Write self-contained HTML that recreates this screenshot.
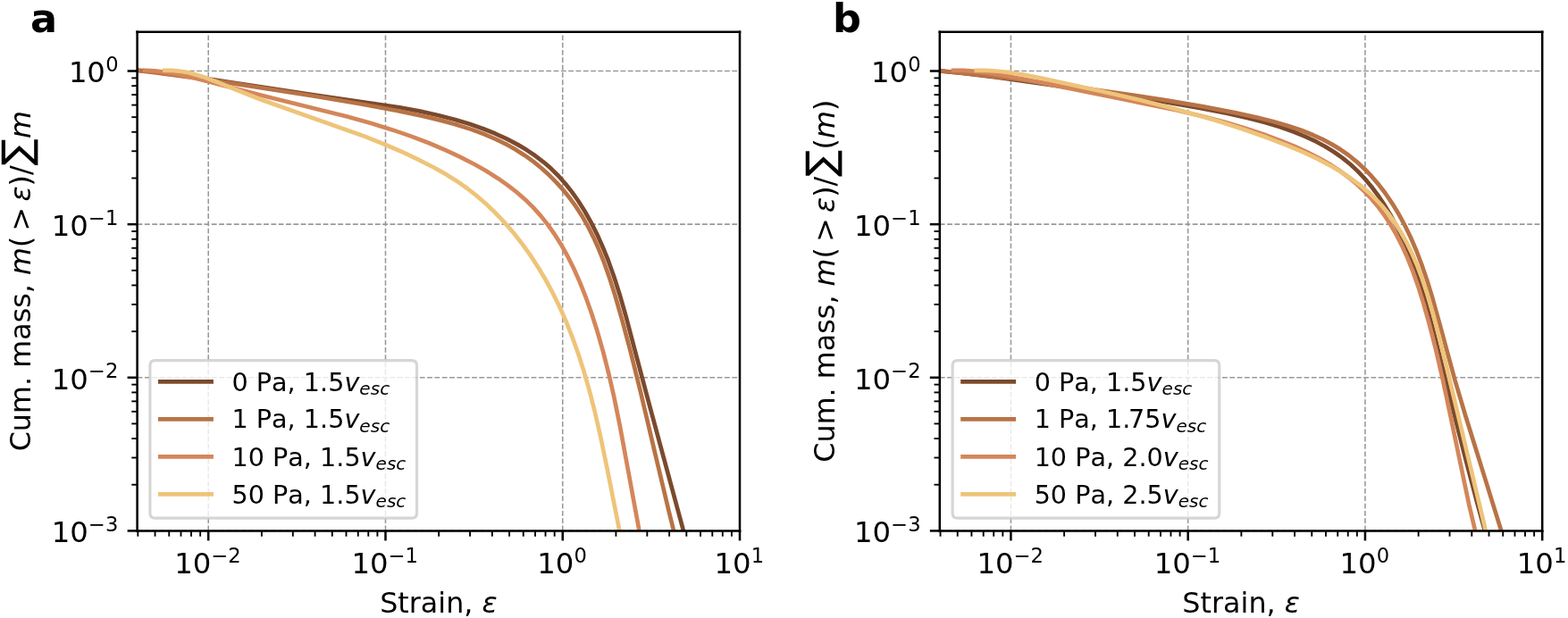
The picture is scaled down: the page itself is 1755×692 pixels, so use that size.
<!DOCTYPE html>
<html><head><meta charset="utf-8"><title>Figure</title>
<style>html,body{margin:0;padding:0;background:#fff;width:1755px;height:692px;overflow:hidden}svg{display:block}</style>
</head><body>
<svg width="1755" height="692" viewBox="0 0 558.917197 220.382166" version="1.1">
<defs>
<style type="text/css">*{stroke-linejoin: round; stroke-linecap: butt}</style>
</defs>
<g id="figure_1">
<g id="patch_1">
<path d="M 0 220.382166 
L 558.917197 220.382166 
L 558.917197 0 
L 0 0 
z
" style="fill: #ffffff"/>
</g>
<g id="axes_1">
<g id="patch_2">
<path d="M 48.917197 189.299363 
L 263.694268 189.299363 
L 263.694268 11.369427 
L 48.917197 11.369427 
z
" style="fill: #ffffff"/>
</g>
<g id="matplotlib.axis_1">
<g id="xtick_1">
<g id="line2d_1">
<path d="M 74.274227 189.299363 
L 74.274227 11.369427 
" clip-path="url(#pebffe4a569)" style="fill: none; stroke-dasharray: 1.85,0.8; stroke-dashoffset: 0; stroke: #999999; stroke-width: 0.5"/>
</g>
<g id="line2d_2">
<g>
<path d="M 0 0 L 0 3.5" transform="translate(74.274227 189.299363)" style="fill: none; stroke: #000000; stroke-width: 0.8"/>
</g>
</g>
<g id="text_1">
<!-- $\mathdefault{10^{-2}}$ -->
<g transform="translate(62.171727 204.625754)">
<text>
<tspan x="0" y="-0.262697" style="font-size: 10.3px; font-family: 'DejaVu Sans', 'Liberation Sans', sans-serif">1</tspan>
<tspan x="6.521362" y="-0.262697" style="font-size: 10.3px; font-family: 'DejaVu Sans', 'Liberation Sans', sans-serif">0</tspan>
<tspan x="13.138428" y="-4.090823" style="font-size: 7.21px; font-family: 'DejaVu Sans', 'Liberation Sans', sans-serif">−</tspan>
<tspan x="19.150293" y="-4.090823" style="font-size: 7.21px; font-family: 'DejaVu Sans', 'Liberation Sans', sans-serif">2</tspan>
</text>
</g>
</g>
</g>
<g id="xtick_2">
<g id="line2d_3">
<path d="M 137.41424 189.299363 
L 137.41424 11.369427 
" clip-path="url(#pebffe4a569)" style="fill: none; stroke-dasharray: 1.85,0.8; stroke-dashoffset: 0; stroke: #999999; stroke-width: 0.5"/>
</g>
<g id="line2d_4">
<g>
<path d="M 0 0 L 0 3.5" transform="translate(137.41424 189.299363)" style="fill: none; stroke: #000000; stroke-width: 0.8"/>
</g>
</g>
<g id="text_2">
<!-- $\mathdefault{10^{-1}}$ -->
<g transform="translate(125.31174 204.625754)">
<text>
<tspan x="0" y="-0.262697" style="font-size: 10.3px; font-family: 'DejaVu Sans', 'Liberation Sans', sans-serif">1</tspan>
<tspan x="6.521362" y="-0.262697" style="font-size: 10.3px; font-family: 'DejaVu Sans', 'Liberation Sans', sans-serif">0</tspan>
<tspan x="13.138428" y="-4.090822" style="font-size: 7.21px; font-family: 'DejaVu Sans', 'Liberation Sans', sans-serif">−</tspan>
<tspan x="19.150293" y="-4.090822" style="font-size: 7.21px; font-family: 'DejaVu Sans', 'Liberation Sans', sans-serif">1</tspan>
</text>
</g>
</g>
</g>
<g id="xtick_3">
<g id="line2d_5">
<path d="M 200.554254 189.299363 
L 200.554254 11.369427 
" clip-path="url(#pebffe4a569)" style="fill: none; stroke-dasharray: 1.85,0.8; stroke-dashoffset: 0; stroke: #999999; stroke-width: 0.5"/>
</g>
<g id="line2d_6">
<g>
<path d="M 0 0 L 0 3.5" transform="translate(200.554254 189.299363)" style="fill: none; stroke: #000000; stroke-width: 0.8"/>
</g>
</g>
<g id="text_3">
<!-- $\mathdefault{10^{0}}$ -->
<g transform="translate(191.490254 204.625754)">
<text>
<tspan x="0" y="-0.262697" style="font-size: 10.3px; font-family: 'DejaVu Sans', 'Liberation Sans', sans-serif">1</tspan>
<tspan x="6.521362" y="-0.262697" style="font-size: 10.3px; font-family: 'DejaVu Sans', 'Liberation Sans', sans-serif">0</tspan>
<tspan x="13.138428" y="-4.090823" style="font-size: 7.21px; font-family: 'DejaVu Sans', 'Liberation Sans', sans-serif">0</tspan>
</text>
</g>
</g>
</g>
<g id="xtick_4">
<g id="line2d_7">
<path d="M 263.694268 189.299363 
L 263.694268 11.369427 
" clip-path="url(#pebffe4a569)" style="fill: none; stroke-dasharray: 1.85,0.8; stroke-dashoffset: 0; stroke: #999999; stroke-width: 0.5"/>
</g>
<g id="line2d_8">
<g>
<path d="M 0 0 L 0 3.5" transform="translate(263.694268 189.299363)" style="fill: none; stroke: #000000; stroke-width: 0.8"/>
</g>
</g>
<g id="text_4">
<!-- $\mathdefault{10^{1}}$ -->
<g transform="translate(254.630268 204.625754)">
<text>
<tspan x="0" y="-0.262697" style="font-size: 10.3px; font-family: 'DejaVu Sans', 'Liberation Sans', sans-serif">1</tspan>
<tspan x="6.521362" y="-0.262697" style="font-size: 10.3px; font-family: 'DejaVu Sans', 'Liberation Sans', sans-serif">0</tspan>
<tspan x="13.138428" y="-4.090822" style="font-size: 7.21px; font-family: 'DejaVu Sans', 'Liberation Sans', sans-serif">1</tspan>
</text>
</g>
</g>
</g>
<g id="xtick_5">
<g id="line2d_9">
<g>
<path d="M 0 0 L 0 2" transform="translate(49.148289 189.299363)" style="fill: none; stroke: #000000; stroke-width: 0.6"/>
</g>
</g>
</g>
<g id="xtick_6">
<g id="line2d_10">
<g>
<path d="M 0 0 L 0 2" transform="translate(55.267189 189.299363)" style="fill: none; stroke: #000000; stroke-width: 0.6"/>
</g>
</g>
</g>
<g id="xtick_7">
<g id="line2d_11">
<g>
<path d="M 0 0 L 0 2" transform="translate(60.266694 189.299363)" style="fill: none; stroke: #000000; stroke-width: 0.6"/>
</g>
</g>
</g>
<g id="xtick_8">
<g id="line2d_12">
<g>
<path d="M 0 0 L 0 2" transform="translate(64.493715 189.299363)" style="fill: none; stroke: #000000; stroke-width: 0.6"/>
</g>
</g>
</g>
<g id="xtick_9">
<g id="line2d_13">
<g>
<path d="M 0 0 L 0 2" transform="translate(68.155327 189.299363)" style="fill: none; stroke: #000000; stroke-width: 0.6"/>
</g>
</g>
</g>
<g id="xtick_10">
<g id="line2d_14">
<g>
<path d="M 0 0 L 0 2" transform="translate(71.385098 189.299363)" style="fill: none; stroke: #000000; stroke-width: 0.6"/>
</g>
</g>
</g>
<g id="xtick_11">
<g id="line2d_15">
<g>
<path d="M 0 0 L 0 2" transform="translate(93.281265 189.299363)" style="fill: none; stroke: #000000; stroke-width: 0.6"/>
</g>
</g>
</g>
<g id="xtick_12">
<g id="line2d_16">
<g>
<path d="M 0 0 L 0 2" transform="translate(104.399669 189.299363)" style="fill: none; stroke: #000000; stroke-width: 0.6"/>
</g>
</g>
</g>
<g id="xtick_13">
<g id="line2d_17">
<g>
<path d="M 0 0 L 0 2" transform="translate(112.288303 189.299363)" style="fill: none; stroke: #000000; stroke-width: 0.6"/>
</g>
</g>
</g>
<g id="xtick_14">
<g id="line2d_18">
<g>
<path d="M 0 0 L 0 2" transform="translate(118.407202 189.299363)" style="fill: none; stroke: #000000; stroke-width: 0.6"/>
</g>
</g>
</g>
<g id="xtick_15">
<g id="line2d_19">
<g>
<path d="M 0 0 L 0 2" transform="translate(123.406707 189.299363)" style="fill: none; stroke: #000000; stroke-width: 0.6"/>
</g>
</g>
</g>
<g id="xtick_16">
<g id="line2d_20">
<g>
<path d="M 0 0 L 0 2" transform="translate(127.633729 189.299363)" style="fill: none; stroke: #000000; stroke-width: 0.6"/>
</g>
</g>
</g>
<g id="xtick_17">
<g id="line2d_21">
<g>
<path d="M 0 0 L 0 2" transform="translate(131.295341 189.299363)" style="fill: none; stroke: #000000; stroke-width: 0.6"/>
</g>
</g>
</g>
<g id="xtick_18">
<g id="line2d_22">
<g>
<path d="M 0 0 L 0 2" transform="translate(134.525112 189.299363)" style="fill: none; stroke: #000000; stroke-width: 0.6"/>
</g>
</g>
</g>
<g id="xtick_19">
<g id="line2d_23">
<g>
<path d="M 0 0 L 0 2" transform="translate(156.421278 189.299363)" style="fill: none; stroke: #000000; stroke-width: 0.6"/>
</g>
</g>
</g>
<g id="xtick_20">
<g id="line2d_24">
<g>
<path d="M 0 0 L 0 2" transform="translate(167.539683 189.299363)" style="fill: none; stroke: #000000; stroke-width: 0.6"/>
</g>
</g>
</g>
<g id="xtick_21">
<g id="line2d_25">
<g>
<path d="M 0 0 L 0 2" transform="translate(175.428316 189.299363)" style="fill: none; stroke: #000000; stroke-width: 0.6"/>
</g>
</g>
</g>
<g id="xtick_22">
<g id="line2d_26">
<g>
<path d="M 0 0 L 0 2" transform="translate(181.547216 189.299363)" style="fill: none; stroke: #000000; stroke-width: 0.6"/>
</g>
</g>
</g>
<g id="xtick_23">
<g id="line2d_27">
<g>
<path d="M 0 0 L 0 2" transform="translate(186.546721 189.299363)" style="fill: none; stroke: #000000; stroke-width: 0.6"/>
</g>
</g>
</g>
<g id="xtick_24">
<g id="line2d_28">
<g>
<path d="M 0 0 L 0 2" transform="translate(190.773742 189.299363)" style="fill: none; stroke: #000000; stroke-width: 0.6"/>
</g>
</g>
</g>
<g id="xtick_25">
<g id="line2d_29">
<g>
<path d="M 0 0 L 0 2" transform="translate(194.435354 189.299363)" style="fill: none; stroke: #000000; stroke-width: 0.6"/>
</g>
</g>
</g>
<g id="xtick_26">
<g id="line2d_30">
<g>
<path d="M 0 0 L 0 2" transform="translate(197.665125 189.299363)" style="fill: none; stroke: #000000; stroke-width: 0.6"/>
</g>
</g>
</g>
<g id="xtick_27">
<g id="line2d_31">
<g>
<path d="M 0 0 L 0 2" transform="translate(219.561292 189.299363)" style="fill: none; stroke: #000000; stroke-width: 0.6"/>
</g>
</g>
</g>
<g id="xtick_28">
<g id="line2d_32">
<g>
<path d="M 0 0 L 0 2" transform="translate(230.679696 189.299363)" style="fill: none; stroke: #000000; stroke-width: 0.6"/>
</g>
</g>
</g>
<g id="xtick_29">
<g id="line2d_33">
<g>
<path d="M 0 0 L 0 2" transform="translate(238.56833 189.299363)" style="fill: none; stroke: #000000; stroke-width: 0.6"/>
</g>
</g>
</g>
<g id="xtick_30">
<g id="line2d_34">
<g>
<path d="M 0 0 L 0 2" transform="translate(244.68723 189.299363)" style="fill: none; stroke: #000000; stroke-width: 0.6"/>
</g>
</g>
</g>
<g id="xtick_31">
<g id="line2d_35">
<g>
<path d="M 0 0 L 0 2" transform="translate(249.686734 189.299363)" style="fill: none; stroke: #000000; stroke-width: 0.6"/>
</g>
</g>
</g>
<g id="xtick_32">
<g id="line2d_36">
<g>
<path d="M 0 0 L 0 2" transform="translate(253.913756 189.299363)" style="fill: none; stroke: #000000; stroke-width: 0.6"/>
</g>
</g>
</g>
<g id="xtick_33">
<g id="line2d_37">
<g>
<path d="M 0 0 L 0 2" transform="translate(257.575368 189.299363)" style="fill: none; stroke: #000000; stroke-width: 0.6"/>
</g>
</g>
</g>
<g id="xtick_34">
<g id="line2d_38">
<g>
<path d="M 0 0 L 0 2" transform="translate(260.805139 189.299363)" style="fill: none; stroke: #000000; stroke-width: 0.6"/>
</g>
</g>
</g>
<g id="text_5">
<!-- Strain, $\varepsilon$ -->
<g transform="translate(135.398732 218.992254)">
<text>
<tspan x="0" y="-0.40625" style="font-size: 10.1px; font-family: 'DejaVu Sans', 'Liberation Sans', sans-serif">S</tspan>
<tspan x="6.427002" y="-0.40625" style="font-size: 10.1px; font-family: 'DejaVu Sans', 'Liberation Sans', sans-serif">t</tspan>
<tspan x="10.396912" y="-0.40625" style="font-size: 10.1px; font-family: 'DejaVu Sans', 'Liberation Sans', sans-serif">r</tspan>
<tspan x="14.559631" y="-0.40625" style="font-size: 10.1px; font-family: 'DejaVu Sans', 'Liberation Sans', sans-serif">a</tspan>
<tspan x="20.76416" y="-0.40625" style="font-size: 10.1px; font-family: 'DejaVu Sans', 'Liberation Sans', sans-serif">i</tspan>
<tspan x="23.577209" y="-0.40625" style="font-size: 10.1px; font-family: 'DejaVu Sans', 'Liberation Sans', sans-serif">n</tspan>
<tspan x="29.994324" y="-0.40625" style="font-size: 10.1px; font-family: 'DejaVu Sans', 'Liberation Sans', sans-serif">,</tspan>
<tspan x="33.212769" y="-0.40625" style="font-size: 10.1px; font-family: 'DejaVu Sans', 'Liberation Sans', sans-serif"> </tspan>
<tspan x="36.431213" y="-0.40625" style="font-style: oblique; font-size: 10.1px; font-family: 'DejaVu Sans', 'Liberation Sans', sans-serif">ε</tspan>
</text>
</g>
</g>
</g>
<g id="matplotlib.axis_2">
<g id="ytick_1">
<g id="line2d_39">
<path d="M 48.917197 189.299363 
L 263.694268 189.299363 
" clip-path="url(#pebffe4a569)" style="fill: none; stroke-dasharray: 1.85,0.8; stroke-dashoffset: 0; stroke: #999999; stroke-width: 0.5"/>
</g>
<g id="line2d_40">
<g>
<path d="M 0 0 L -3.5 0" transform="translate(48.917197 189.299363)" style="fill: none; stroke: #000000; stroke-width: 0.8"/>
</g>
</g>
<g id="text_6">
<!-- $\mathdefault{10^{-3}}$ -->
<g transform="translate(18.412197 193.212558)">
<text>
<tspan x="0" y="0.131391" style="font-size: 10.3px; font-family: 'DejaVu Sans', 'Liberation Sans', sans-serif">1</tspan>
<tspan x="6.521362" y="0.131391" style="font-size: 10.3px; font-family: 'DejaVu Sans', 'Liberation Sans', sans-serif">0</tspan>
<tspan x="13.138428" y="-3.696735" style="font-size: 7.21px; font-family: 'DejaVu Sans', 'Liberation Sans', sans-serif">−</tspan>
<tspan x="19.150293" y="-3.696735" style="font-size: 7.21px; font-family: 'DejaVu Sans', 'Liberation Sans', sans-serif">3</tspan>
</text>
</g>
</g>
</g>
<g id="ytick_2">
<g id="line2d_41">
<path d="M 48.917197 134.640364 
L 263.694268 134.640364 
" clip-path="url(#pebffe4a569)" style="fill: none; stroke-dasharray: 1.85,0.8; stroke-dashoffset: 0; stroke: #999999; stroke-width: 0.5"/>
</g>
<g id="line2d_42">
<g>
<path d="M 0 0 L -3.5 0" transform="translate(48.917197 134.640364)" style="fill: none; stroke: #000000; stroke-width: 0.8"/>
</g>
</g>
<g id="text_7">
<!-- $\mathdefault{10^{-2}}$ -->
<g transform="translate(18.412197 138.553559)">
<text>
<tspan x="0" y="0.140709" style="font-size: 10.3px; font-family: 'DejaVu Sans', 'Liberation Sans', sans-serif">1</tspan>
<tspan x="6.521362" y="0.140709" style="font-size: 10.3px; font-family: 'DejaVu Sans', 'Liberation Sans', sans-serif">0</tspan>
<tspan x="13.138428" y="-3.687417" style="font-size: 7.21px; font-family: 'DejaVu Sans', 'Liberation Sans', sans-serif">−</tspan>
<tspan x="19.150293" y="-3.687417" style="font-size: 7.21px; font-family: 'DejaVu Sans', 'Liberation Sans', sans-serif">2</tspan>
</text>
</g>
</g>
</g>
<g id="ytick_3">
<g id="line2d_43">
<path d="M 48.917197 79.981365 
L 263.694268 79.981365 
" clip-path="url(#pebffe4a569)" style="fill: none; stroke-dasharray: 1.85,0.8; stroke-dashoffset: 0; stroke: #999999; stroke-width: 0.5"/>
</g>
<g id="line2d_44">
<g>
<path d="M 0 0 L -3.5 0" transform="translate(48.917197 79.981365)" style="fill: none; stroke: #000000; stroke-width: 0.8"/>
</g>
</g>
<g id="text_8">
<!-- $\mathdefault{10^{-1}}$ -->
<g transform="translate(18.412197 83.894561)">
<text>
<tspan x="0" y="0.118178" style="font-size: 10.3px; font-family: 'DejaVu Sans', 'Liberation Sans', sans-serif">1</tspan>
<tspan x="6.521362" y="0.118178" style="font-size: 10.3px; font-family: 'DejaVu Sans', 'Liberation Sans', sans-serif">0</tspan>
<tspan x="13.138428" y="-3.709947" style="font-size: 7.21px; font-family: 'DejaVu Sans', 'Liberation Sans', sans-serif">−</tspan>
<tspan x="19.150293" y="-3.709947" style="font-size: 7.21px; font-family: 'DejaVu Sans', 'Liberation Sans', sans-serif">1</tspan>
</text>
</g>
</g>
</g>
<g id="ytick_4">
<g id="line2d_45">
<path d="M 48.917197 25.322366 
L 263.694268 25.322366 
" clip-path="url(#pebffe4a569)" style="fill: none; stroke-dasharray: 1.85,0.8; stroke-dashoffset: 0; stroke: #999999; stroke-width: 0.5"/>
</g>
<g id="line2d_46">
<g>
<path d="M 0 0 L -3.5 0" transform="translate(48.917197 25.322366)" style="fill: none; stroke: #000000; stroke-width: 0.8"/>
</g>
</g>
<g id="text_9">
<!-- $\mathdefault{10^{0}}$ -->
<g transform="translate(24.489197 29.235562)">
<text>
<tspan x="0" y="0.127495" style="font-size: 10.3px; font-family: 'DejaVu Sans', 'Liberation Sans', sans-serif">1</tspan>
<tspan x="6.521362" y="0.127495" style="font-size: 10.3px; font-family: 'DejaVu Sans', 'Liberation Sans', sans-serif">0</tspan>
<tspan x="13.138428" y="-3.700631" style="font-size: 7.21px; font-family: 'DejaVu Sans', 'Liberation Sans', sans-serif">0</tspan>
</text>
</g>
</g>
</g>
<g id="ytick_5">
<g id="line2d_47">
<g>
<path d="M 0 0 L -2 0" transform="translate(48.917197 172.845365)" style="fill: none; stroke: #000000; stroke-width: 0.6"/>
</g>
</g>
</g>
<g id="ytick_6">
<g id="line2d_48">
<g>
<path d="M 0 0 L -2 0" transform="translate(48.917197 163.220393)" style="fill: none; stroke: #000000; stroke-width: 0.6"/>
</g>
</g>
</g>
<g id="ytick_7">
<g id="line2d_49">
<g>
<path d="M 0 0 L -2 0" transform="translate(48.917197 156.391367)" style="fill: none; stroke: #000000; stroke-width: 0.6"/>
</g>
</g>
</g>
<g id="ytick_8">
<g id="line2d_50">
<g>
<path d="M 0 0 L -2 0" transform="translate(48.917197 151.094362)" style="fill: none; stroke: #000000; stroke-width: 0.6"/>
</g>
</g>
</g>
<g id="ytick_9">
<g id="line2d_51">
<g>
<path d="M 0 0 L -2 0" transform="translate(48.917197 146.766395)" style="fill: none; stroke: #000000; stroke-width: 0.6"/>
</g>
</g>
</g>
<g id="ytick_10">
<g id="line2d_52">
<g>
<path d="M 0 0 L -2 0" transform="translate(48.917197 143.10715)" style="fill: none; stroke: #000000; stroke-width: 0.6"/>
</g>
</g>
</g>
<g id="ytick_11">
<g id="line2d_53">
<g>
<path d="M 0 0 L -2 0" transform="translate(48.917197 139.937368)" style="fill: none; stroke: #000000; stroke-width: 0.6"/>
</g>
</g>
</g>
<g id="ytick_12">
<g id="line2d_54">
<g>
<path d="M 0 0 L -2 0" transform="translate(48.917197 137.141423)" style="fill: none; stroke: #000000; stroke-width: 0.6"/>
</g>
</g>
</g>
<g id="ytick_13">
<g id="line2d_55">
<g>
<path d="M 0 0 L -2 0" transform="translate(48.917197 118.186366)" style="fill: none; stroke: #000000; stroke-width: 0.6"/>
</g>
</g>
</g>
<g id="ytick_14">
<g id="line2d_56">
<g>
<path d="M 0 0 L -2 0" transform="translate(48.917197 108.561394)" style="fill: none; stroke: #000000; stroke-width: 0.6"/>
</g>
</g>
</g>
<g id="ytick_15">
<g id="line2d_57">
<g>
<path d="M 0 0 L -2 0" transform="translate(48.917197 101.732368)" style="fill: none; stroke: #000000; stroke-width: 0.6"/>
</g>
</g>
</g>
<g id="ytick_16">
<g id="line2d_58">
<g>
<path d="M 0 0 L -2 0" transform="translate(48.917197 96.435363)" style="fill: none; stroke: #000000; stroke-width: 0.6"/>
</g>
</g>
</g>
<g id="ytick_17">
<g id="line2d_59">
<g>
<path d="M 0 0 L -2 0" transform="translate(48.917197 92.107396)" style="fill: none; stroke: #000000; stroke-width: 0.6"/>
</g>
</g>
</g>
<g id="ytick_18">
<g id="line2d_60">
<g>
<path d="M 0 0 L -2 0" transform="translate(48.917197 88.448151)" style="fill: none; stroke: #000000; stroke-width: 0.6"/>
</g>
</g>
</g>
<g id="ytick_19">
<g id="line2d_61">
<g>
<path d="M 0 0 L -2 0" transform="translate(48.917197 85.27837)" style="fill: none; stroke: #000000; stroke-width: 0.6"/>
</g>
</g>
</g>
<g id="ytick_20">
<g id="line2d_62">
<g>
<path d="M 0 0 L -2 0" transform="translate(48.917197 82.482424)" style="fill: none; stroke: #000000; stroke-width: 0.6"/>
</g>
</g>
</g>
<g id="ytick_21">
<g id="line2d_63">
<g>
<path d="M 0 0 L -2 0" transform="translate(48.917197 63.527367)" style="fill: none; stroke: #000000; stroke-width: 0.6"/>
</g>
</g>
</g>
<g id="ytick_22">
<g id="line2d_64">
<g>
<path d="M 0 0 L -2 0" transform="translate(48.917197 53.902395)" style="fill: none; stroke: #000000; stroke-width: 0.6"/>
</g>
</g>
</g>
<g id="ytick_23">
<g id="line2d_65">
<g>
<path d="M 0 0 L -2 0" transform="translate(48.917197 47.073369)" style="fill: none; stroke: #000000; stroke-width: 0.6"/>
</g>
</g>
</g>
<g id="ytick_24">
<g id="line2d_66">
<g>
<path d="M 0 0 L -2 0" transform="translate(48.917197 41.776365)" style="fill: none; stroke: #000000; stroke-width: 0.6"/>
</g>
</g>
</g>
<g id="ytick_25">
<g id="line2d_67">
<g>
<path d="M 0 0 L -2 0" transform="translate(48.917197 37.448397)" style="fill: none; stroke: #000000; stroke-width: 0.6"/>
</g>
</g>
</g>
<g id="ytick_26">
<g id="line2d_68">
<g>
<path d="M 0 0 L -2 0" transform="translate(48.917197 33.789152)" style="fill: none; stroke: #000000; stroke-width: 0.6"/>
</g>
</g>
</g>
<g id="ytick_27">
<g id="line2d_69">
<g>
<path d="M 0 0 L -2 0" transform="translate(48.917197 30.619371)" style="fill: none; stroke: #000000; stroke-width: 0.6"/>
</g>
</g>
</g>
<g id="ytick_28">
<g id="line2d_70">
<g>
<path d="M 0 0 L -2 0" transform="translate(48.917197 27.823425)" style="fill: none; stroke: #000000; stroke-width: 0.6"/>
</g>
</g>
</g>
<g id="text_10">
<!-- Cum. mass, $m(&gt;\varepsilon)/\sum m$ -->
<g transform="translate(11.584197 160.934395) rotate(-90)">
<text>
<tspan x="0" y="-0.828125" style="font-size: 10.1px; font-family: 'DejaVu Sans', 'Liberation Sans', sans-serif">C</tspan>
<tspan x="7.069702" y="-0.828125" style="font-size: 10.1px; font-family: 'DejaVu Sans', 'Liberation Sans', sans-serif">u</tspan>
<tspan x="13.486816" y="-0.828125" style="font-size: 10.1px; font-family: 'DejaVu Sans', 'Liberation Sans', sans-serif">m</tspan>
<tspan x="23.349792" y="-0.828125" style="font-size: 10.1px; font-family: 'DejaVu Sans', 'Liberation Sans', sans-serif">.</tspan>
<tspan x="26.568237" y="-0.828125" style="font-size: 10.1px; font-family: 'DejaVu Sans', 'Liberation Sans', sans-serif"> </tspan>
<tspan x="29.786682" y="-0.828125" style="font-size: 10.1px; font-family: 'DejaVu Sans', 'Liberation Sans', sans-serif">m</tspan>
<tspan x="39.649658" y="-0.828125" style="font-size: 10.1px; font-family: 'DejaVu Sans', 'Liberation Sans', sans-serif">a</tspan>
<tspan x="45.854187" y="-0.828125" style="font-size: 10.1px; font-family: 'DejaVu Sans', 'Liberation Sans', sans-serif">s</tspan>
<tspan x="51.129272" y="-0.828125" style="font-size: 10.1px; font-family: 'DejaVu Sans', 'Liberation Sans', sans-serif">s</tspan>
<tspan x="56.404358" y="-0.828125" style="font-size: 10.1px; font-family: 'DejaVu Sans', 'Liberation Sans', sans-serif">,</tspan>
<tspan x="59.622803" y="-0.828125" style="font-size: 10.1px; font-family: 'DejaVu Sans', 'Liberation Sans', sans-serif"> </tspan>
<tspan x="72.704224" y="-0.828125" style="font-size: 10.1px; font-family: 'DejaVu Sans', 'Liberation Sans', sans-serif">(</tspan>
<tspan x="78.626953" y="-0.828125" style="font-size: 10.1px; font-family: 'DejaVu Sans', 'Liberation Sans', sans-serif">&gt;</tspan>
<tspan x="94.55603" y="-0.828125" style="font-size: 10.1px; font-family: 'DejaVu Sans', 'Liberation Sans', sans-serif">)</tspan>
<tspan x="98.506165" y="-0.828125" style="font-size: 10.1px; font-family: 'DejaVu Sans', 'Liberation Sans', sans-serif">/</tspan>
<tspan x="62.841248" y="-0.828125" style="font-style: oblique; font-size: 10.1px; font-family: 'DejaVu Sans', 'Liberation Sans', sans-serif">m</tspan>
<tspan x="89.083191" y="-0.828125" style="font-style: oblique; font-size: 10.1px; font-family: 'DejaVu Sans', 'Liberation Sans', sans-serif">ε</tspan>
<tspan x="111.562866" y="-0.828125" style="font-style: oblique; font-size: 10.1px; font-family: 'DejaVu Sans', 'Liberation Sans', sans-serif">m</tspan>
<tspan x="101.917419" y="-0.828125" style="font-size: 14.2836px; font-family: 'DejaVu Sans', 'Liberation Sans', sans-serif">∑</tspan>
</text>
</g>
</g>
</g>
<g id="line2d_71">
<path d="M 44.584708 24.656356 
L 52.798136 25.40398 
L 62.467222 26.523345 
L 73.586192 28.050965 
L 89.853499 30.546724 
L 111.301068 33.815336 
L 142.425056 38.297868 
L 149.797529 39.685731 
L 156.404589 41.155405 
L 162.24853 42.677862 
L 167.316894 44.206246 
L 172.306151 45.944414 
L 176.492329 47.620562 
L 180.57113 49.485612 
L 184.51982 51.555613 
L 187.694603 53.448752 
L 190.750086 55.504652 
L 193.673114 57.7326 
L 196.450529 60.141884 
L 199.071181 62.738593 
L 201.535912 65.509674 
L 203.850013 68.434981 
L 206.018778 71.494355 
L 208.43691 75.314191 
L 210.662537 79.263226 
L 212.704814 83.306643 
L 214.871331 88.107248 
L 216.831275 92.98308 
L 218.855089 98.63286 
L 220.907543 105.067085 
L 223.179447 113.009285 
L 226.424207 125.354521 
L 231.21816 143.430079 
L 244.107996 191.083245 
L 244.107996 191.083245 
" clip-path="url(#pebffe4a569)" style="fill: none; stroke: #7b4a2d; stroke-width: 1.5; stroke-linecap: square"/>
</g>
<g id="line2d_72">
<path d="M 44.585986 24.68626 
L 55.622552 25.927249 
L 68.129765 27.571164 
L 83.551914 29.833101 
L 112.746996 34.393136 
L 128.759503 37.096121 
L 141.175484 39.415907 
L 150.706967 41.396131 
L 157.271596 42.959772 
L 163.034857 44.550579 
L 167.992077 46.140064 
L 172.843645 47.950202 
L 176.899426 49.70363 
L 180.844076 51.666438 
L 184.035236 53.477793 
L 187.129531 55.46221 
L 190.11798 57.623768 
L 192.991542 59.952503 
L 195.741175 62.437126 
L 198.357835 65.066346 
L 200.832479 67.828873 
L 203.156063 70.713416 
L 205.319557 73.708687 
L 207.31945 76.803953 
L 209.518162 80.637143 
L 211.517865 84.585132 
L 213.340195 88.632167 
L 215.270937 93.457875 
L 217.262022 99.079701 
L 219.288567 105.495702 
L 221.760452 114.112758 
L 224.821372 125.603246 
L 228.211131 139.243918 
L 233.121543 160.07913 
L 238.608003 183.133504 
L 240.605877 191.083156 
L 240.605877 191.083156 
" clip-path="url(#pebffe4a569)" style="fill: none; stroke: #b87346; stroke-width: 1.5; stroke-linecap: square"/>
</g>
<g id="line2d_73">
<path d="M 51.656539 25.08717 
L 55.074157 25.26872 
L 58.462773 25.657746 
L 62.498303 26.33517 
L 67.841315 27.476102 
L 74.483315 29.136097 
L 95.08832 34.462674 
L 123.713924 41.55749 
L 132.275668 43.954695 
L 140.106137 46.381396 
L 146.565187 48.602002 
L 152.953085 51.037423 
L 158.632957 53.439694 
L 164.239554 56.065731 
L 169.152232 58.607279 
L 173.365501 61.00767 
L 177.460625 63.588315 
L 180.848756 65.954978 
L 184.099791 68.474256 
L 187.190515 71.155467 
L 190.097828 74.007844 
L 192.809841 77.032522 
L 195.335163 80.215823 
L 197.684595 83.542489 
L 199.868937 86.997261 
L 202.223086 91.169382 
L 204.384377 95.470871 
L 206.640269 100.514184 
L 208.692262 105.65865 
L 210.788905 111.522048 
L 212.894301 118.082067 
L 214.972569 125.33801 
L 216.996796 133.295944 
L 218.956259 141.960059 
L 220.991102 152.002863 
L 223.599676 166.123415 
L 227.818083 189.058483 
L 228.218975 191.082738 
L 228.218975 191.082738 
" clip-path="url(#pebffe4a569)" style="fill: none; stroke: #d4865a; stroke-width: 1.5; stroke-linecap: square"/>
</g>
<g id="line2d_74">
<path d="M 58.725009 25.125973 
L 61.30945 25.118595 
L 63.848972 25.333397 
L 66.349174 25.742498 
L 69.427665 26.484633 
L 73.067703 27.641759 
L 77.263637 29.240344 
L 92.789754 35.430163 
L 102.40944 38.880139 
L 128.859976 48.219684 
L 136.597463 51.273855 
L 143.076782 54.057662 
L 148.892407 56.779192 
L 154.618911 59.710302 
L 159.110369 62.234203 
L 162.912466 64.62398 
L 166.565723 67.201274 
L 170.070949 69.956452 
L 173.429661 72.879214 
L 176.643377 75.959261 
L 179.713612 79.186292 
L 183.048711 83.041099 
L 186.200654 87.05906 
L 189.171707 91.224802 
L 191.964136 95.52295 
L 194.580204 99.938132 
L 197.022177 104.454972 
L 199.564119 109.638789 
L 201.89249 114.910558 
L 204.019582 120.256928 
L 206.168812 126.275104 
L 208.116532 132.364659 
L 210.055875 139.132671 
L 211.96644 146.582543 
L 213.980622 155.337542 
L 216.335108 166.648629 
L 221.181148 191.081763 
L 221.181148 191.081763 
" clip-path="url(#pebffe4a569)" style="fill: none; stroke: #eec47a; stroke-width: 1.5; stroke-linecap: square"/>
</g>
<g id="patch_3">
<path d="M 48.917197 189.299363 
L 48.917197 11.369427 
" style="fill: none; stroke: #000000; stroke-width: 0.8; stroke-linejoin: miter; stroke-linecap: square"/>
</g>
<g id="patch_4">
<path d="M 263.694268 189.299363 
L 263.694268 11.369427 
" style="fill: none; stroke: #000000; stroke-width: 0.8; stroke-linejoin: miter; stroke-linecap: square"/>
</g>
<g id="patch_5">
<path d="M 48.917197 189.299363 
L 263.694268 189.299363 
" style="fill: none; stroke: #000000; stroke-width: 0.8; stroke-linejoin: miter; stroke-linecap: square"/>
</g>
<g id="patch_6">
<path d="M 48.917197 11.369427 
L 263.694268 11.369427 
" style="fill: none; stroke: #000000; stroke-width: 0.8; stroke-linejoin: miter; stroke-linecap: square"/>
</g>
<g id="legend_1">
<g id="patch_7">
<path d="M 55.294197 184.744363 
L 146.758597 184.744363 
Q 148.580597 184.744363 148.580597 182.922363 
L 148.580597 130.346276 
Q 148.580597 128.524276 146.758597 128.524276 
L 55.294197 128.524276 
Q 53.472197 128.524276 53.472197 130.346276 
L 53.472197 182.922363 
Q 53.472197 184.744363 55.294197 184.744363 
z
" style="fill: #ffffff; opacity: 0.8; stroke: #cccccc; stroke-linejoin: miter"/>
</g>
<g id="line2d_75">
<path d="M 57.116197 136.093035 
L 66.226197 136.093035 
L 75.336197 136.093035 
" style="fill: none; stroke: #7b4a2d; stroke-width: 1.5; stroke-linecap: square"/>
</g>
<g id="text_11">
<!-- 0 Pa, 1.5$v_{esc}$ -->
<g transform="translate(82.624197 139.727395)">
<text>
<tspan x="0" y="-0.3125" style="font-size: 9.11px; font-family: 'DejaVu Sans', 'Liberation Sans', sans-serif">0</tspan>
<tspan x="5.805603" y="-0.3125" style="font-size: 9.11px; font-family: 'DejaVu Sans', 'Liberation Sans', sans-serif"> </tspan>
<tspan x="8.706177" y="-0.3125" style="font-size: 9.11px; font-family: 'DejaVu Sans', 'Liberation Sans', sans-serif">P</tspan>
<tspan x="14.208801" y="-0.3125" style="font-size: 9.11px; font-family: 'DejaVu Sans', 'Liberation Sans', sans-serif">a</tspan>
<tspan x="19.800537" y="-0.3125" style="font-size: 9.11px; font-family: 'DejaVu Sans', 'Liberation Sans', sans-serif">,</tspan>
<tspan x="22.701111" y="-0.3125" style="font-size: 9.11px; font-family: 'DejaVu Sans', 'Liberation Sans', sans-serif"> </tspan>
<tspan x="25.601685" y="-0.3125" style="font-size: 9.11px; font-family: 'DejaVu Sans', 'Liberation Sans', sans-serif">1</tspan>
<tspan x="31.407288" y="-0.3125" style="font-size: 9.11px; font-family: 'DejaVu Sans', 'Liberation Sans', sans-serif">.</tspan>
<tspan x="34.307861" y="-0.3125" style="font-size: 9.11px; font-family: 'DejaVu Sans', 'Liberation Sans', sans-serif">5</tspan>
<tspan x="40.113464" y="-0.3125" style="font-style: oblique; font-size: 9.11px; font-family: 'DejaVu Sans', 'Liberation Sans', sans-serif">v</tspan>
<tspan x="45.513611" y="1.164062" style="font-style: oblique; font-size: 6.377px; font-family: 'DejaVu Sans', 'Liberation Sans', sans-serif">e</tspan>
<tspan x="49.44342" y="1.164062" style="font-style: oblique; font-size: 6.377px; font-family: 'DejaVu Sans', 'Liberation Sans', sans-serif">s</tspan>
<tspan x="52.771283" y="1.164062" style="font-style: oblique; font-size: 6.377px; font-family: 'DejaVu Sans', 'Liberation Sans', sans-serif">c</tspan>
</text>
</g>
</g>
<g id="line2d_76">
<path d="M 57.116197 149.464807 
L 66.226197 149.464807 
L 75.336197 149.464807 
" style="fill: none; stroke: #b87346; stroke-width: 1.5; stroke-linecap: square"/>
</g>
<g id="text_12">
<!-- 1 Pa, 1.5$v_{esc}$ -->
<g transform="translate(82.624197 153.099167)">
<text>
<tspan x="0" y="-0.4375" style="font-size: 9.11px; font-family: 'DejaVu Sans', 'Liberation Sans', sans-serif">1</tspan>
<tspan x="5.805603" y="-0.4375" style="font-size: 9.11px; font-family: 'DejaVu Sans', 'Liberation Sans', sans-serif"> </tspan>
<tspan x="8.706177" y="-0.4375" style="font-size: 9.11px; font-family: 'DejaVu Sans', 'Liberation Sans', sans-serif">P</tspan>
<tspan x="14.208801" y="-0.4375" style="font-size: 9.11px; font-family: 'DejaVu Sans', 'Liberation Sans', sans-serif">a</tspan>
<tspan x="19.800537" y="-0.4375" style="font-size: 9.11px; font-family: 'DejaVu Sans', 'Liberation Sans', sans-serif">,</tspan>
<tspan x="22.701111" y="-0.4375" style="font-size: 9.11px; font-family: 'DejaVu Sans', 'Liberation Sans', sans-serif"> </tspan>
<tspan x="25.601685" y="-0.4375" style="font-size: 9.11px; font-family: 'DejaVu Sans', 'Liberation Sans', sans-serif">1</tspan>
<tspan x="31.407288" y="-0.4375" style="font-size: 9.11px; font-family: 'DejaVu Sans', 'Liberation Sans', sans-serif">.</tspan>
<tspan x="34.307861" y="-0.4375" style="font-size: 9.11px; font-family: 'DejaVu Sans', 'Liberation Sans', sans-serif">5</tspan>
<tspan x="40.113464" y="-0.4375" style="font-style: oblique; font-size: 9.11px; font-family: 'DejaVu Sans', 'Liberation Sans', sans-serif">v</tspan>
<tspan x="45.513611" y="1.039062" style="font-style: oblique; font-size: 6.377px; font-family: 'DejaVu Sans', 'Liberation Sans', sans-serif">e</tspan>
<tspan x="49.44342" y="1.039062" style="font-style: oblique; font-size: 6.377px; font-family: 'DejaVu Sans', 'Liberation Sans', sans-serif">s</tspan>
<tspan x="52.771283" y="1.039062" style="font-style: oblique; font-size: 6.377px; font-family: 'DejaVu Sans', 'Liberation Sans', sans-serif">c</tspan>
</text>
</g>
</g>
<g id="line2d_77">
<path d="M 57.116197 162.836579 
L 66.226197 162.836579 
L 75.336197 162.836579 
" style="fill: none; stroke: #d4865a; stroke-width: 1.5; stroke-linecap: square"/>
</g>
<g id="text_13">
<!-- 10 Pa, 1.5$v_{esc}$ -->
<g transform="translate(82.624197 166.470939)">
<text>
<tspan x="0" y="-0.3125" style="font-size: 9.11px; font-family: 'DejaVu Sans', 'Liberation Sans', sans-serif">1</tspan>
<tspan x="5.805603" y="-0.3125" style="font-size: 9.11px; font-family: 'DejaVu Sans', 'Liberation Sans', sans-serif">0</tspan>
<tspan x="11.611206" y="-0.3125" style="font-size: 9.11px; font-family: 'DejaVu Sans', 'Liberation Sans', sans-serif"> </tspan>
<tspan x="14.51178" y="-0.3125" style="font-size: 9.11px; font-family: 'DejaVu Sans', 'Liberation Sans', sans-serif">P</tspan>
<tspan x="20.014404" y="-0.3125" style="font-size: 9.11px; font-family: 'DejaVu Sans', 'Liberation Sans', sans-serif">a</tspan>
<tspan x="25.60614" y="-0.3125" style="font-size: 9.11px; font-family: 'DejaVu Sans', 'Liberation Sans', sans-serif">,</tspan>
<tspan x="28.506714" y="-0.3125" style="font-size: 9.11px; font-family: 'DejaVu Sans', 'Liberation Sans', sans-serif"> </tspan>
<tspan x="31.407288" y="-0.3125" style="font-size: 9.11px; font-family: 'DejaVu Sans', 'Liberation Sans', sans-serif">1</tspan>
<tspan x="37.212891" y="-0.3125" style="font-size: 9.11px; font-family: 'DejaVu Sans', 'Liberation Sans', sans-serif">.</tspan>
<tspan x="40.113464" y="-0.3125" style="font-size: 9.11px; font-family: 'DejaVu Sans', 'Liberation Sans', sans-serif">5</tspan>
<tspan x="45.919067" y="-0.3125" style="font-style: oblique; font-size: 9.11px; font-family: 'DejaVu Sans', 'Liberation Sans', sans-serif">v</tspan>
<tspan x="51.319214" y="1.164062" style="font-style: oblique; font-size: 6.377px; font-family: 'DejaVu Sans', 'Liberation Sans', sans-serif">e</tspan>
<tspan x="55.249023" y="1.164062" style="font-style: oblique; font-size: 6.377px; font-family: 'DejaVu Sans', 'Liberation Sans', sans-serif">s</tspan>
<tspan x="58.576886" y="1.164062" style="font-style: oblique; font-size: 6.377px; font-family: 'DejaVu Sans', 'Liberation Sans', sans-serif">c</tspan>
</text>
</g>
</g>
<g id="line2d_78">
<path d="M 57.116197 176.208351 
L 66.226197 176.208351 
L 75.336197 176.208351 
" style="fill: none; stroke: #eec47a; stroke-width: 1.5; stroke-linecap: square"/>
</g>
<g id="text_14">
<!-- 50 Pa, 1.5$v_{esc}$ -->
<g transform="translate(82.624197 179.842711)">
<text>
<tspan x="0" y="-0.3125" style="font-size: 9.11px; font-family: 'DejaVu Sans', 'Liberation Sans', sans-serif">5</tspan>
<tspan x="5.805603" y="-0.3125" style="font-size: 9.11px; font-family: 'DejaVu Sans', 'Liberation Sans', sans-serif">0</tspan>
<tspan x="11.611206" y="-0.3125" style="font-size: 9.11px; font-family: 'DejaVu Sans', 'Liberation Sans', sans-serif"> </tspan>
<tspan x="14.51178" y="-0.3125" style="font-size: 9.11px; font-family: 'DejaVu Sans', 'Liberation Sans', sans-serif">P</tspan>
<tspan x="20.014404" y="-0.3125" style="font-size: 9.11px; font-family: 'DejaVu Sans', 'Liberation Sans', sans-serif">a</tspan>
<tspan x="25.60614" y="-0.3125" style="font-size: 9.11px; font-family: 'DejaVu Sans', 'Liberation Sans', sans-serif">,</tspan>
<tspan x="28.506714" y="-0.3125" style="font-size: 9.11px; font-family: 'DejaVu Sans', 'Liberation Sans', sans-serif"> </tspan>
<tspan x="31.407288" y="-0.3125" style="font-size: 9.11px; font-family: 'DejaVu Sans', 'Liberation Sans', sans-serif">1</tspan>
<tspan x="37.212891" y="-0.3125" style="font-size: 9.11px; font-family: 'DejaVu Sans', 'Liberation Sans', sans-serif">.</tspan>
<tspan x="40.113464" y="-0.3125" style="font-size: 9.11px; font-family: 'DejaVu Sans', 'Liberation Sans', sans-serif">5</tspan>
<tspan x="45.919067" y="-0.3125" style="font-style: oblique; font-size: 9.11px; font-family: 'DejaVu Sans', 'Liberation Sans', sans-serif">v</tspan>
<tspan x="51.319214" y="1.164062" style="font-style: oblique; font-size: 6.377px; font-family: 'DejaVu Sans', 'Liberation Sans', sans-serif">e</tspan>
<tspan x="55.249023" y="1.164062" style="font-style: oblique; font-size: 6.377px; font-family: 'DejaVu Sans', 'Liberation Sans', sans-serif">s</tspan>
<tspan x="58.576886" y="1.164062" style="font-style: oblique; font-size: 6.377px; font-family: 'DejaVu Sans', 'Liberation Sans', sans-serif">c</tspan>
</text>
</g>
</g>
</g>
</g>
<g id="axes_2">
<g id="patch_8">
<path d="M 334.968153 189.299363 
L 549.745223 189.299363 
L 549.745223 11.369427 
L 334.968153 11.369427 
z
" style="fill: #ffffff"/>
</g>
<g id="matplotlib.axis_3">
<g id="xtick_35">
<g id="line2d_79">
<path d="M 360.325182 189.299363 
L 360.325182 11.369427 
" clip-path="url(#pb86e2588bd)" style="fill: none; stroke-dasharray: 1.85,0.8; stroke-dashoffset: 0; stroke: #999999; stroke-width: 0.5"/>
</g>
<g id="line2d_80">
<g>
<path d="M 0 0 L 0 3.5" transform="translate(360.325182 189.299363)" style="fill: none; stroke: #000000; stroke-width: 0.8"/>
</g>
</g>
<g id="text_15">
<!-- $\mathdefault{10^{-2}}$ -->
<g transform="translate(348.222682 204.625754)">
<text>
<tspan x="0" y="-0.262697" style="font-size: 10.3px; font-family: 'DejaVu Sans', 'Liberation Sans', sans-serif">1</tspan>
<tspan x="6.521362" y="-0.262697" style="font-size: 10.3px; font-family: 'DejaVu Sans', 'Liberation Sans', sans-serif">0</tspan>
<tspan x="13.138428" y="-4.090823" style="font-size: 7.21px; font-family: 'DejaVu Sans', 'Liberation Sans', sans-serif">−</tspan>
<tspan x="19.150293" y="-4.090823" style="font-size: 7.21px; font-family: 'DejaVu Sans', 'Liberation Sans', sans-serif">2</tspan>
</text>
</g>
</g>
</g>
<g id="xtick_36">
<g id="line2d_81">
<path d="M 423.465196 189.299363 
L 423.465196 11.369427 
" clip-path="url(#pb86e2588bd)" style="fill: none; stroke-dasharray: 1.85,0.8; stroke-dashoffset: 0; stroke: #999999; stroke-width: 0.5"/>
</g>
<g id="line2d_82">
<g>
<path d="M 0 0 L 0 3.5" transform="translate(423.465196 189.299363)" style="fill: none; stroke: #000000; stroke-width: 0.8"/>
</g>
</g>
<g id="text_16">
<!-- $\mathdefault{10^{-1}}$ -->
<g transform="translate(411.362696 204.625754)">
<text>
<tspan x="0" y="-0.262697" style="font-size: 10.3px; font-family: 'DejaVu Sans', 'Liberation Sans', sans-serif">1</tspan>
<tspan x="6.521362" y="-0.262697" style="font-size: 10.3px; font-family: 'DejaVu Sans', 'Liberation Sans', sans-serif">0</tspan>
<tspan x="13.138428" y="-4.090822" style="font-size: 7.21px; font-family: 'DejaVu Sans', 'Liberation Sans', sans-serif">−</tspan>
<tspan x="19.150293" y="-4.090822" style="font-size: 7.21px; font-family: 'DejaVu Sans', 'Liberation Sans', sans-serif">1</tspan>
</text>
</g>
</g>
</g>
<g id="xtick_37">
<g id="line2d_83">
<path d="M 486.605209 189.299363 
L 486.605209 11.369427 
" clip-path="url(#pb86e2588bd)" style="fill: none; stroke-dasharray: 1.85,0.8; stroke-dashoffset: 0; stroke: #999999; stroke-width: 0.5"/>
</g>
<g id="line2d_84">
<g>
<path d="M 0 0 L 0 3.5" transform="translate(486.605209 189.299363)" style="fill: none; stroke: #000000; stroke-width: 0.8"/>
</g>
</g>
<g id="text_17">
<!-- $\mathdefault{10^{0}}$ -->
<g transform="translate(477.541209 204.625754)">
<text>
<tspan x="0" y="-0.262697" style="font-size: 10.3px; font-family: 'DejaVu Sans', 'Liberation Sans', sans-serif">1</tspan>
<tspan x="6.521362" y="-0.262697" style="font-size: 10.3px; font-family: 'DejaVu Sans', 'Liberation Sans', sans-serif">0</tspan>
<tspan x="13.138428" y="-4.090823" style="font-size: 7.21px; font-family: 'DejaVu Sans', 'Liberation Sans', sans-serif">0</tspan>
</text>
</g>
</g>
</g>
<g id="xtick_38">
<g id="line2d_85">
<path d="M 549.745223 189.299363 
L 549.745223 11.369427 
" clip-path="url(#pb86e2588bd)" style="fill: none; stroke-dasharray: 1.85,0.8; stroke-dashoffset: 0; stroke: #999999; stroke-width: 0.5"/>
</g>
<g id="line2d_86">
<g>
<path d="M 0 0 L 0 3.5" transform="translate(549.745223 189.299363)" style="fill: none; stroke: #000000; stroke-width: 0.8"/>
</g>
</g>
<g id="text_18">
<!-- $\mathdefault{10^{1}}$ -->
<g transform="translate(540.681223 204.625754)">
<text>
<tspan x="0" y="-0.262697" style="font-size: 10.3px; font-family: 'DejaVu Sans', 'Liberation Sans', sans-serif">1</tspan>
<tspan x="6.521362" y="-0.262697" style="font-size: 10.3px; font-family: 'DejaVu Sans', 'Liberation Sans', sans-serif">0</tspan>
<tspan x="13.138428" y="-4.090822" style="font-size: 7.21px; font-family: 'DejaVu Sans', 'Liberation Sans', sans-serif">1</tspan>
</text>
</g>
</g>
</g>
<g id="xtick_39">
<g id="line2d_87">
<g>
<path d="M 0 0 L 0 2" transform="translate(335.199245 189.299363)" style="fill: none; stroke: #000000; stroke-width: 0.6"/>
</g>
</g>
</g>
<g id="xtick_40">
<g id="line2d_88">
<g>
<path d="M 0 0 L 0 2" transform="translate(341.318144 189.299363)" style="fill: none; stroke: #000000; stroke-width: 0.6"/>
</g>
</g>
</g>
<g id="xtick_41">
<g id="line2d_89">
<g>
<path d="M 0 0 L 0 2" transform="translate(346.317649 189.299363)" style="fill: none; stroke: #000000; stroke-width: 0.6"/>
</g>
</g>
</g>
<g id="xtick_42">
<g id="line2d_90">
<g>
<path d="M 0 0 L 0 2" transform="translate(350.54467 189.299363)" style="fill: none; stroke: #000000; stroke-width: 0.6"/>
</g>
</g>
</g>
<g id="xtick_43">
<g id="line2d_91">
<g>
<path d="M 0 0 L 0 2" transform="translate(354.206283 189.299363)" style="fill: none; stroke: #000000; stroke-width: 0.6"/>
</g>
</g>
</g>
<g id="xtick_44">
<g id="line2d_92">
<g>
<path d="M 0 0 L 0 2" transform="translate(357.436054 189.299363)" style="fill: none; stroke: #000000; stroke-width: 0.6"/>
</g>
</g>
</g>
<g id="xtick_45">
<g id="line2d_93">
<g>
<path d="M 0 0 L 0 2" transform="translate(379.33222 189.299363)" style="fill: none; stroke: #000000; stroke-width: 0.6"/>
</g>
</g>
</g>
<g id="xtick_46">
<g id="line2d_94">
<g>
<path d="M 0 0 L 0 2" transform="translate(390.450625 189.299363)" style="fill: none; stroke: #000000; stroke-width: 0.6"/>
</g>
</g>
</g>
<g id="xtick_47">
<g id="line2d_95">
<g>
<path d="M 0 0 L 0 2" transform="translate(398.339258 189.299363)" style="fill: none; stroke: #000000; stroke-width: 0.6"/>
</g>
</g>
</g>
<g id="xtick_48">
<g id="line2d_96">
<g>
<path d="M 0 0 L 0 2" transform="translate(404.458158 189.299363)" style="fill: none; stroke: #000000; stroke-width: 0.6"/>
</g>
</g>
</g>
<g id="xtick_49">
<g id="line2d_97">
<g>
<path d="M 0 0 L 0 2" transform="translate(409.457663 189.299363)" style="fill: none; stroke: #000000; stroke-width: 0.6"/>
</g>
</g>
</g>
<g id="xtick_50">
<g id="line2d_98">
<g>
<path d="M 0 0 L 0 2" transform="translate(413.684684 189.299363)" style="fill: none; stroke: #000000; stroke-width: 0.6"/>
</g>
</g>
</g>
<g id="xtick_51">
<g id="line2d_99">
<g>
<path d="M 0 0 L 0 2" transform="translate(417.346296 189.299363)" style="fill: none; stroke: #000000; stroke-width: 0.6"/>
</g>
</g>
</g>
<g id="xtick_52">
<g id="line2d_100">
<g>
<path d="M 0 0 L 0 2" transform="translate(420.576067 189.299363)" style="fill: none; stroke: #000000; stroke-width: 0.6"/>
</g>
</g>
</g>
<g id="xtick_53">
<g id="line2d_101">
<g>
<path d="M 0 0 L 0 2" transform="translate(442.472234 189.299363)" style="fill: none; stroke: #000000; stroke-width: 0.6"/>
</g>
</g>
</g>
<g id="xtick_54">
<g id="line2d_102">
<g>
<path d="M 0 0 L 0 2" transform="translate(453.590638 189.299363)" style="fill: none; stroke: #000000; stroke-width: 0.6"/>
</g>
</g>
</g>
<g id="xtick_55">
<g id="line2d_103">
<g>
<path d="M 0 0 L 0 2" transform="translate(461.479272 189.299363)" style="fill: none; stroke: #000000; stroke-width: 0.6"/>
</g>
</g>
</g>
<g id="xtick_56">
<g id="line2d_104">
<g>
<path d="M 0 0 L 0 2" transform="translate(467.598171 189.299363)" style="fill: none; stroke: #000000; stroke-width: 0.6"/>
</g>
</g>
</g>
<g id="xtick_57">
<g id="line2d_105">
<g>
<path d="M 0 0 L 0 2" transform="translate(472.597676 189.299363)" style="fill: none; stroke: #000000; stroke-width: 0.6"/>
</g>
</g>
</g>
<g id="xtick_58">
<g id="line2d_106">
<g>
<path d="M 0 0 L 0 2" transform="translate(476.824698 189.299363)" style="fill: none; stroke: #000000; stroke-width: 0.6"/>
</g>
</g>
</g>
<g id="xtick_59">
<g id="line2d_107">
<g>
<path d="M 0 0 L 0 2" transform="translate(480.48631 189.299363)" style="fill: none; stroke: #000000; stroke-width: 0.6"/>
</g>
</g>
</g>
<g id="xtick_60">
<g id="line2d_108">
<g>
<path d="M 0 0 L 0 2" transform="translate(483.716081 189.299363)" style="fill: none; stroke: #000000; stroke-width: 0.6"/>
</g>
</g>
</g>
<g id="xtick_61">
<g id="line2d_109">
<g>
<path d="M 0 0 L 0 2" transform="translate(505.612247 189.299363)" style="fill: none; stroke: #000000; stroke-width: 0.6"/>
</g>
</g>
</g>
<g id="xtick_62">
<g id="line2d_110">
<g>
<path d="M 0 0 L 0 2" transform="translate(516.730652 189.299363)" style="fill: none; stroke: #000000; stroke-width: 0.6"/>
</g>
</g>
</g>
<g id="xtick_63">
<g id="line2d_111">
<g>
<path d="M 0 0 L 0 2" transform="translate(524.619285 189.299363)" style="fill: none; stroke: #000000; stroke-width: 0.6"/>
</g>
</g>
</g>
<g id="xtick_64">
<g id="line2d_112">
<g>
<path d="M 0 0 L 0 2" transform="translate(530.738185 189.299363)" style="fill: none; stroke: #000000; stroke-width: 0.6"/>
</g>
</g>
</g>
<g id="xtick_65">
<g id="line2d_113">
<g>
<path d="M 0 0 L 0 2" transform="translate(535.73769 189.299363)" style="fill: none; stroke: #000000; stroke-width: 0.6"/>
</g>
</g>
</g>
<g id="xtick_66">
<g id="line2d_114">
<g>
<path d="M 0 0 L 0 2" transform="translate(539.964711 189.299363)" style="fill: none; stroke: #000000; stroke-width: 0.6"/>
</g>
</g>
</g>
<g id="xtick_67">
<g id="line2d_115">
<g>
<path d="M 0 0 L 0 2" transform="translate(543.626323 189.299363)" style="fill: none; stroke: #000000; stroke-width: 0.6"/>
</g>
</g>
</g>
<g id="xtick_68">
<g id="line2d_116">
<g>
<path d="M 0 0 L 0 2" transform="translate(546.856094 189.299363)" style="fill: none; stroke: #000000; stroke-width: 0.6"/>
</g>
</g>
</g>
<g id="text_19">
<!-- Strain, $\varepsilon$ -->
<g transform="translate(421.449688 218.992254)">
<text>
<tspan x="0" y="-0.40625" style="font-size: 10.1px; font-family: 'DejaVu Sans', 'Liberation Sans', sans-serif">S</tspan>
<tspan x="6.427002" y="-0.40625" style="font-size: 10.1px; font-family: 'DejaVu Sans', 'Liberation Sans', sans-serif">t</tspan>
<tspan x="10.396912" y="-0.40625" style="font-size: 10.1px; font-family: 'DejaVu Sans', 'Liberation Sans', sans-serif">r</tspan>
<tspan x="14.559631" y="-0.40625" style="font-size: 10.1px; font-family: 'DejaVu Sans', 'Liberation Sans', sans-serif">a</tspan>
<tspan x="20.76416" y="-0.40625" style="font-size: 10.1px; font-family: 'DejaVu Sans', 'Liberation Sans', sans-serif">i</tspan>
<tspan x="23.577209" y="-0.40625" style="font-size: 10.1px; font-family: 'DejaVu Sans', 'Liberation Sans', sans-serif">n</tspan>
<tspan x="29.994324" y="-0.40625" style="font-size: 10.1px; font-family: 'DejaVu Sans', 'Liberation Sans', sans-serif">,</tspan>
<tspan x="33.212769" y="-0.40625" style="font-size: 10.1px; font-family: 'DejaVu Sans', 'Liberation Sans', sans-serif"> </tspan>
<tspan x="36.431213" y="-0.40625" style="font-style: oblique; font-size: 10.1px; font-family: 'DejaVu Sans', 'Liberation Sans', sans-serif">ε</tspan>
</text>
</g>
</g>
</g>
<g id="matplotlib.axis_4">
<g id="ytick_29">
<g id="line2d_117">
<path d="M 334.968153 189.299363 
L 549.745223 189.299363 
" clip-path="url(#pb86e2588bd)" style="fill: none; stroke-dasharray: 1.85,0.8; stroke-dashoffset: 0; stroke: #999999; stroke-width: 0.5"/>
</g>
<g id="line2d_118">
<g>
<path d="M 0 0 L -3.5 0" transform="translate(334.968153 189.299363)" style="fill: none; stroke: #000000; stroke-width: 0.8"/>
</g>
</g>
<g id="text_20">
<!-- $\mathdefault{10^{-3}}$ -->
<g transform="translate(304.463153 193.212558)">
<text>
<tspan x="0" y="0.131391" style="font-size: 10.3px; font-family: 'DejaVu Sans', 'Liberation Sans', sans-serif">1</tspan>
<tspan x="6.521362" y="0.131391" style="font-size: 10.3px; font-family: 'DejaVu Sans', 'Liberation Sans', sans-serif">0</tspan>
<tspan x="13.138428" y="-3.696735" style="font-size: 7.21px; font-family: 'DejaVu Sans', 'Liberation Sans', sans-serif">−</tspan>
<tspan x="19.150293" y="-3.696735" style="font-size: 7.21px; font-family: 'DejaVu Sans', 'Liberation Sans', sans-serif">3</tspan>
</text>
</g>
</g>
</g>
<g id="ytick_30">
<g id="line2d_119">
<path d="M 334.968153 134.640364 
L 549.745223 134.640364 
" clip-path="url(#pb86e2588bd)" style="fill: none; stroke-dasharray: 1.85,0.8; stroke-dashoffset: 0; stroke: #999999; stroke-width: 0.5"/>
</g>
<g id="line2d_120">
<g>
<path d="M 0 0 L -3.5 0" transform="translate(334.968153 134.640364)" style="fill: none; stroke: #000000; stroke-width: 0.8"/>
</g>
</g>
<g id="text_21">
<!-- $\mathdefault{10^{-2}}$ -->
<g transform="translate(304.463153 138.553559)">
<text>
<tspan x="0" y="0.140709" style="font-size: 10.3px; font-family: 'DejaVu Sans', 'Liberation Sans', sans-serif">1</tspan>
<tspan x="6.521362" y="0.140709" style="font-size: 10.3px; font-family: 'DejaVu Sans', 'Liberation Sans', sans-serif">0</tspan>
<tspan x="13.138428" y="-3.687417" style="font-size: 7.21px; font-family: 'DejaVu Sans', 'Liberation Sans', sans-serif">−</tspan>
<tspan x="19.150293" y="-3.687417" style="font-size: 7.21px; font-family: 'DejaVu Sans', 'Liberation Sans', sans-serif">2</tspan>
</text>
</g>
</g>
</g>
<g id="ytick_31">
<g id="line2d_121">
<path d="M 334.968153 79.981365 
L 549.745223 79.981365 
" clip-path="url(#pb86e2588bd)" style="fill: none; stroke-dasharray: 1.85,0.8; stroke-dashoffset: 0; stroke: #999999; stroke-width: 0.5"/>
</g>
<g id="line2d_122">
<g>
<path d="M 0 0 L -3.5 0" transform="translate(334.968153 79.981365)" style="fill: none; stroke: #000000; stroke-width: 0.8"/>
</g>
</g>
<g id="text_22">
<!-- $\mathdefault{10^{-1}}$ -->
<g transform="translate(304.463153 83.894561)">
<text>
<tspan x="0" y="0.118178" style="font-size: 10.3px; font-family: 'DejaVu Sans', 'Liberation Sans', sans-serif">1</tspan>
<tspan x="6.521362" y="0.118178" style="font-size: 10.3px; font-family: 'DejaVu Sans', 'Liberation Sans', sans-serif">0</tspan>
<tspan x="13.138428" y="-3.709947" style="font-size: 7.21px; font-family: 'DejaVu Sans', 'Liberation Sans', sans-serif">−</tspan>
<tspan x="19.150293" y="-3.709947" style="font-size: 7.21px; font-family: 'DejaVu Sans', 'Liberation Sans', sans-serif">1</tspan>
</text>
</g>
</g>
</g>
<g id="ytick_32">
<g id="line2d_123">
<path d="M 334.968153 25.322366 
L 549.745223 25.322366 
" clip-path="url(#pb86e2588bd)" style="fill: none; stroke-dasharray: 1.85,0.8; stroke-dashoffset: 0; stroke: #999999; stroke-width: 0.5"/>
</g>
<g id="line2d_124">
<g>
<path d="M 0 0 L -3.5 0" transform="translate(334.968153 25.322366)" style="fill: none; stroke: #000000; stroke-width: 0.8"/>
</g>
</g>
<g id="text_23">
<!-- $\mathdefault{10^{0}}$ -->
<g transform="translate(310.540153 29.235562)">
<text>
<tspan x="0" y="0.127495" style="font-size: 10.3px; font-family: 'DejaVu Sans', 'Liberation Sans', sans-serif">1</tspan>
<tspan x="6.521362" y="0.127495" style="font-size: 10.3px; font-family: 'DejaVu Sans', 'Liberation Sans', sans-serif">0</tspan>
<tspan x="13.138428" y="-3.700631" style="font-size: 7.21px; font-family: 'DejaVu Sans', 'Liberation Sans', sans-serif">0</tspan>
</text>
</g>
</g>
</g>
<g id="ytick_33">
<g id="line2d_125">
<g>
<path d="M 0 0 L -2 0" transform="translate(334.968153 172.845365)" style="fill: none; stroke: #000000; stroke-width: 0.6"/>
</g>
</g>
</g>
<g id="ytick_34">
<g id="line2d_126">
<g>
<path d="M 0 0 L -2 0" transform="translate(334.968153 163.220393)" style="fill: none; stroke: #000000; stroke-width: 0.6"/>
</g>
</g>
</g>
<g id="ytick_35">
<g id="line2d_127">
<g>
<path d="M 0 0 L -2 0" transform="translate(334.968153 156.391367)" style="fill: none; stroke: #000000; stroke-width: 0.6"/>
</g>
</g>
</g>
<g id="ytick_36">
<g id="line2d_128">
<g>
<path d="M 0 0 L -2 0" transform="translate(334.968153 151.094362)" style="fill: none; stroke: #000000; stroke-width: 0.6"/>
</g>
</g>
</g>
<g id="ytick_37">
<g id="line2d_129">
<g>
<path d="M 0 0 L -2 0" transform="translate(334.968153 146.766395)" style="fill: none; stroke: #000000; stroke-width: 0.6"/>
</g>
</g>
</g>
<g id="ytick_38">
<g id="line2d_130">
<g>
<path d="M 0 0 L -2 0" transform="translate(334.968153 143.10715)" style="fill: none; stroke: #000000; stroke-width: 0.6"/>
</g>
</g>
</g>
<g id="ytick_39">
<g id="line2d_131">
<g>
<path d="M 0 0 L -2 0" transform="translate(334.968153 139.937368)" style="fill: none; stroke: #000000; stroke-width: 0.6"/>
</g>
</g>
</g>
<g id="ytick_40">
<g id="line2d_132">
<g>
<path d="M 0 0 L -2 0" transform="translate(334.968153 137.141423)" style="fill: none; stroke: #000000; stroke-width: 0.6"/>
</g>
</g>
</g>
<g id="ytick_41">
<g id="line2d_133">
<g>
<path d="M 0 0 L -2 0" transform="translate(334.968153 118.186366)" style="fill: none; stroke: #000000; stroke-width: 0.6"/>
</g>
</g>
</g>
<g id="ytick_42">
<g id="line2d_134">
<g>
<path d="M 0 0 L -2 0" transform="translate(334.968153 108.561394)" style="fill: none; stroke: #000000; stroke-width: 0.6"/>
</g>
</g>
</g>
<g id="ytick_43">
<g id="line2d_135">
<g>
<path d="M 0 0 L -2 0" transform="translate(334.968153 101.732368)" style="fill: none; stroke: #000000; stroke-width: 0.6"/>
</g>
</g>
</g>
<g id="ytick_44">
<g id="line2d_136">
<g>
<path d="M 0 0 L -2 0" transform="translate(334.968153 96.435363)" style="fill: none; stroke: #000000; stroke-width: 0.6"/>
</g>
</g>
</g>
<g id="ytick_45">
<g id="line2d_137">
<g>
<path d="M 0 0 L -2 0" transform="translate(334.968153 92.107396)" style="fill: none; stroke: #000000; stroke-width: 0.6"/>
</g>
</g>
</g>
<g id="ytick_46">
<g id="line2d_138">
<g>
<path d="M 0 0 L -2 0" transform="translate(334.968153 88.448151)" style="fill: none; stroke: #000000; stroke-width: 0.6"/>
</g>
</g>
</g>
<g id="ytick_47">
<g id="line2d_139">
<g>
<path d="M 0 0 L -2 0" transform="translate(334.968153 85.27837)" style="fill: none; stroke: #000000; stroke-width: 0.6"/>
</g>
</g>
</g>
<g id="ytick_48">
<g id="line2d_140">
<g>
<path d="M 0 0 L -2 0" transform="translate(334.968153 82.482424)" style="fill: none; stroke: #000000; stroke-width: 0.6"/>
</g>
</g>
</g>
<g id="ytick_49">
<g id="line2d_141">
<g>
<path d="M 0 0 L -2 0" transform="translate(334.968153 63.527367)" style="fill: none; stroke: #000000; stroke-width: 0.6"/>
</g>
</g>
</g>
<g id="ytick_50">
<g id="line2d_142">
<g>
<path d="M 0 0 L -2 0" transform="translate(334.968153 53.902395)" style="fill: none; stroke: #000000; stroke-width: 0.6"/>
</g>
</g>
</g>
<g id="ytick_51">
<g id="line2d_143">
<g>
<path d="M 0 0 L -2 0" transform="translate(334.968153 47.073369)" style="fill: none; stroke: #000000; stroke-width: 0.6"/>
</g>
</g>
</g>
<g id="ytick_52">
<g id="line2d_144">
<g>
<path d="M 0 0 L -2 0" transform="translate(334.968153 41.776365)" style="fill: none; stroke: #000000; stroke-width: 0.6"/>
</g>
</g>
</g>
<g id="ytick_53">
<g id="line2d_145">
<g>
<path d="M 0 0 L -2 0" transform="translate(334.968153 37.448397)" style="fill: none; stroke: #000000; stroke-width: 0.6"/>
</g>
</g>
</g>
<g id="ytick_54">
<g id="line2d_146">
<g>
<path d="M 0 0 L -2 0" transform="translate(334.968153 33.789152)" style="fill: none; stroke: #000000; stroke-width: 0.6"/>
</g>
</g>
</g>
<g id="ytick_55">
<g id="line2d_147">
<g>
<path d="M 0 0 L -2 0" transform="translate(334.968153 30.619371)" style="fill: none; stroke: #000000; stroke-width: 0.6"/>
</g>
</g>
</g>
<g id="ytick_56">
<g id="line2d_148">
<g>
<path d="M 0 0 L -2 0" transform="translate(334.968153 27.823425)" style="fill: none; stroke: #000000; stroke-width: 0.6"/>
</g>
</g>
</g>
<g id="text_24">
<!-- Cum. mass, $m(&gt;\varepsilon)/\sum(m)$ -->
<g transform="translate(298.176554 164.873395) rotate(-90)">
<text>
<tspan x="0" y="-0.828125" style="font-size: 10.1px; font-family: 'DejaVu Sans', 'Liberation Sans', sans-serif">C</tspan>
<tspan x="7.069702" y="-0.828125" style="font-size: 10.1px; font-family: 'DejaVu Sans', 'Liberation Sans', sans-serif">u</tspan>
<tspan x="13.486816" y="-0.828125" style="font-size: 10.1px; font-family: 'DejaVu Sans', 'Liberation Sans', sans-serif">m</tspan>
<tspan x="23.349792" y="-0.828125" style="font-size: 10.1px; font-family: 'DejaVu Sans', 'Liberation Sans', sans-serif">.</tspan>
<tspan x="26.568237" y="-0.828125" style="font-size: 10.1px; font-family: 'DejaVu Sans', 'Liberation Sans', sans-serif"> </tspan>
<tspan x="29.786682" y="-0.828125" style="font-size: 10.1px; font-family: 'DejaVu Sans', 'Liberation Sans', sans-serif">m</tspan>
<tspan x="39.649658" y="-0.828125" style="font-size: 10.1px; font-family: 'DejaVu Sans', 'Liberation Sans', sans-serif">a</tspan>
<tspan x="45.854187" y="-0.828125" style="font-size: 10.1px; font-family: 'DejaVu Sans', 'Liberation Sans', sans-serif">s</tspan>
<tspan x="51.129272" y="-0.828125" style="font-size: 10.1px; font-family: 'DejaVu Sans', 'Liberation Sans', sans-serif">s</tspan>
<tspan x="56.404358" y="-0.828125" style="font-size: 10.1px; font-family: 'DejaVu Sans', 'Liberation Sans', sans-serif">,</tspan>
<tspan x="59.622803" y="-0.828125" style="font-size: 10.1px; font-family: 'DejaVu Sans', 'Liberation Sans', sans-serif"> </tspan>
<tspan x="72.704224" y="-0.828125" style="font-size: 10.1px; font-family: 'DejaVu Sans', 'Liberation Sans', sans-serif">(</tspan>
<tspan x="78.626953" y="-0.828125" style="font-size: 10.1px; font-family: 'DejaVu Sans', 'Liberation Sans', sans-serif">&gt;</tspan>
<tspan x="94.55603" y="-0.828125" style="font-size: 10.1px; font-family: 'DejaVu Sans', 'Liberation Sans', sans-serif">)</tspan>
<tspan x="98.506165" y="-0.828125" style="font-size: 10.1px; font-family: 'DejaVu Sans', 'Liberation Sans', sans-serif">/</tspan>
<tspan x="111.562866" y="-0.828125" style="font-size: 10.1px; font-family: 'DejaVu Sans', 'Liberation Sans', sans-serif">(</tspan>
<tspan x="125.375977" y="-0.828125" style="font-size: 10.1px; font-family: 'DejaVu Sans', 'Liberation Sans', sans-serif">)</tspan>
<tspan x="62.841248" y="-0.828125" style="font-style: oblique; font-size: 10.1px; font-family: 'DejaVu Sans', 'Liberation Sans', sans-serif">m</tspan>
<tspan x="89.083191" y="-0.828125" style="font-style: oblique; font-size: 10.1px; font-family: 'DejaVu Sans', 'Liberation Sans', sans-serif">ε</tspan>
<tspan x="115.513" y="-0.828125" style="font-style: oblique; font-size: 10.1px; font-family: 'DejaVu Sans', 'Liberation Sans', sans-serif">m</tspan>
<tspan x="101.917419" y="-0.828125" style="font-size: 14.2836px; font-family: 'DejaVu Sans', 'Liberation Sans', sans-serif">∑</tspan>
</text>
</g>
</g>
</g>
<g id="line2d_149">
<path d="M 332.803472 25.064946 
L 343.125405 26.116564 
L 354.948091 27.543786 
L 369.731482 29.563459 
L 399.875075 33.985327 
L 416.663248 36.571305 
L 427.619951 38.481984 
L 437.149448 40.375663 
L 445.243799 42.209086 
L 451.099797 43.737198 
L 456.153445 45.25773 
L 461.102427 46.988276 
L 465.232884 48.666833 
L 469.235645 50.550228 
L 472.456817 52.293027 
L 475.55946 54.207773 
L 478.530005 56.307966 
L 481.354944 58.606993 
L 484.026653 61.10703 
L 486.548294 63.789706 
L 488.924186 66.63445 
L 491.158647 69.620693 
L 493.65939 73.361998 
L 495.970152 77.241894 
L 498.098394 81.224833 
L 500.36139 85.957067 
L 502.407801 90.758256 
L 504.514583 96.318805 
L 506.411083 101.945827 
L 508.341565 108.340223 
L 510.486777 116.222713 
L 513.7389 129.200458 
L 521.502038 160.200176 
L 526.415557 178.89231 
L 529.778874 191.082387 
L 529.778874 191.082387 
" clip-path="url(#pb86e2588bd)" style="fill: none; stroke: #7b4a2d; stroke-width: 1.5; stroke-linecap: square"/>
</g>
<g id="line2d_150">
<path d="M 332.803602 25.001082 
L 347.007919 26.444247 
L 362.008967 28.191506 
L 379.249832 30.430519 
L 399.363066 33.280584 
L 416.352692 35.881386 
L 428.927691 38.025152 
L 440.114779 40.162753 
L 448.372581 41.94803 
L 454.332448 43.450047 
L 459.463754 44.961279 
L 463.768769 46.436718 
L 467.961685 48.106612 
L 471.352362 49.666016 
L 474.633804 51.394484 
L 477.791741 53.307485 
L 480.811908 55.420484 
L 483.683344 57.742217 
L 486.406035 60.259167 
L 488.982225 62.953219 
L 491.41416 65.806258 
L 493.704083 68.800169 
L 496.267697 72.553308 
L 498.633925 76.451916 
L 500.806648 80.46469 
L 502.789984 84.56065 
L 504.880964 89.417724 
L 506.763856 94.346851 
L 508.704897 100.052824 
L 510.680911 106.543101 
L 513.095282 115.270818 
L 518.635001 135.651802 
L 522.277934 147.919725 
L 527.869436 165.882388 
L 535.236513 189.636088 
L 535.669607 191.082717 
L 535.669607 191.082717 
" clip-path="url(#pb86e2588bd)" style="fill: none; stroke: #b87346; stroke-width: 1.5; stroke-linecap: square"/>
</g>
<g id="line2d_151">
<path d="M 339.809381 25.09057 
L 343.386775 25.145418 
L 347.656593 25.448383 
L 352.612828 26.058909 
L 358.25394 26.988097 
L 368.098025 28.874255 
L 419.285805 39.235546 
L 428.313616 41.376963 
L 436.593838 43.577841 
L 443.447104 45.615619 
L 450.25111 47.871263 
L 456.327436 50.112961 
L 461.673201 52.300964 
L 466.267009 54.401968 
L 470.743053 56.710264 
L 474.457268 58.877831 
L 478.033372 61.240964 
L 480.890777 63.37404 
L 483.622639 65.664048 
L 486.218186 68.103579 
L 488.667142 70.682106 
L 490.959233 73.389104 
L 493.088581 76.214184 
L 495.440136 79.746139 
L 497.586478 83.416734 
L 499.545574 87.20891 
L 501.618494 91.764019 
L 503.489529 96.434299 
L 505.417244 101.878035 
L 507.368295 108.089398 
L 509.523268 115.728238 
L 511.829509 124.767712 
L 514.24178 135.21029 
L 517.050453 148.454961 
L 523.619405 179.888814 
L 526.101011 190.383079 
L 526.276006 191.082932 
L 526.276006 191.082932 
" clip-path="url(#pb86e2588bd)" style="fill: none; stroke: #d4865a; stroke-width: 1.5; stroke-linecap: square"/>
</g>
<g id="line2d_152">
<path d="M 348.057217 25.126649 
L 351.563082 25.135061 
L 355.74455 25.390853 
L 359.902434 25.86812 
L 364.729576 26.639085 
L 371.594939 27.991801 
L 392.786899 32.555816 
L 406.390946 35.693154 
L 417.223444 38.406028 
L 426.658184 40.979484 
L 435.37768 43.573141 
L 443.387385 46.170449 
L 451.356192 48.989011 
L 458.620359 51.790002 
L 464.496507 54.273724 
L 469.611775 56.671455 
L 473.96505 58.946749 
L 478.170355 61.413692 
L 481.632849 63.699696 
L 484.942927 66.160609 
L 488.080416 68.812169 
L 490.548599 71.178792 
L 492.871288 73.697794 
L 495.042314 76.370493 
L 497.066466 79.182707 
L 499.31016 82.718946 
L 501.361669 86.405288 
L 503.23153 90.214028 
L 505.197506 94.775288 
L 506.948928 99.422794 
L 508.731632 104.802162 
L 510.724112 111.579028 
L 513.078883 120.400128 
L 515.737656 131.25496 
L 526.269609 175.397743 
L 529.035833 186.984713 
L 529.937401 191.082683 
L 529.937401 191.082683 
" clip-path="url(#pb86e2588bd)" style="fill: none; stroke: #eec47a; stroke-width: 1.5; stroke-linecap: square"/>
</g>
<g id="patch_9">
<path d="M 334.968153 189.299363 
L 334.968153 11.369427 
" style="fill: none; stroke: #000000; stroke-width: 0.8; stroke-linejoin: miter; stroke-linecap: square"/>
</g>
<g id="patch_10">
<path d="M 549.745223 189.299363 
L 549.745223 11.369427 
" style="fill: none; stroke: #000000; stroke-width: 0.8; stroke-linejoin: miter; stroke-linecap: square"/>
</g>
<g id="patch_11">
<path d="M 334.968153 189.299363 
L 549.745223 189.299363 
" style="fill: none; stroke: #000000; stroke-width: 0.8; stroke-linejoin: miter; stroke-linecap: square"/>
</g>
<g id="patch_12">
<path d="M 334.968153 11.369427 
L 549.745223 11.369427 
" style="fill: none; stroke: #000000; stroke-width: 0.8; stroke-linejoin: miter; stroke-linecap: square"/>
</g>
<g id="legend_2">
<g id="patch_13">
<path d="M 341.345153 184.744363 
L 432.809553 184.744363 
Q 434.631553 184.744363 434.631553 182.922363 
L 434.631553 130.346276 
Q 434.631553 128.524276 432.809553 128.524276 
L 341.345153 128.524276 
Q 339.523153 128.524276 339.523153 130.346276 
L 339.523153 182.922363 
Q 339.523153 184.744363 341.345153 184.744363 
z
" style="fill: #ffffff; opacity: 0.8; stroke: #cccccc; stroke-linejoin: miter"/>
</g>
<g id="line2d_153">
<path d="M 343.167153 136.093035 
L 352.277153 136.093035 
L 361.387153 136.093035 
" style="fill: none; stroke: #7b4a2d; stroke-width: 1.5; stroke-linecap: square"/>
</g>
<g id="text_25">
<!-- 0 Pa, 1.5$v_{esc}$ -->
<g transform="translate(368.675153 139.727395)">
<text>
<tspan x="0" y="-0.3125" style="font-size: 9.11px; font-family: 'DejaVu Sans', 'Liberation Sans', sans-serif">0</tspan>
<tspan x="5.805603" y="-0.3125" style="font-size: 9.11px; font-family: 'DejaVu Sans', 'Liberation Sans', sans-serif"> </tspan>
<tspan x="8.706177" y="-0.3125" style="font-size: 9.11px; font-family: 'DejaVu Sans', 'Liberation Sans', sans-serif">P</tspan>
<tspan x="14.208801" y="-0.3125" style="font-size: 9.11px; font-family: 'DejaVu Sans', 'Liberation Sans', sans-serif">a</tspan>
<tspan x="19.800537" y="-0.3125" style="font-size: 9.11px; font-family: 'DejaVu Sans', 'Liberation Sans', sans-serif">,</tspan>
<tspan x="22.701111" y="-0.3125" style="font-size: 9.11px; font-family: 'DejaVu Sans', 'Liberation Sans', sans-serif"> </tspan>
<tspan x="25.601685" y="-0.3125" style="font-size: 9.11px; font-family: 'DejaVu Sans', 'Liberation Sans', sans-serif">1</tspan>
<tspan x="31.407288" y="-0.3125" style="font-size: 9.11px; font-family: 'DejaVu Sans', 'Liberation Sans', sans-serif">.</tspan>
<tspan x="34.307861" y="-0.3125" style="font-size: 9.11px; font-family: 'DejaVu Sans', 'Liberation Sans', sans-serif">5</tspan>
<tspan x="40.113464" y="-0.3125" style="font-style: oblique; font-size: 9.11px; font-family: 'DejaVu Sans', 'Liberation Sans', sans-serif">v</tspan>
<tspan x="45.513611" y="1.164062" style="font-style: oblique; font-size: 6.377px; font-family: 'DejaVu Sans', 'Liberation Sans', sans-serif">e</tspan>
<tspan x="49.44342" y="1.164062" style="font-style: oblique; font-size: 6.377px; font-family: 'DejaVu Sans', 'Liberation Sans', sans-serif">s</tspan>
<tspan x="52.771283" y="1.164062" style="font-style: oblique; font-size: 6.377px; font-family: 'DejaVu Sans', 'Liberation Sans', sans-serif">c</tspan>
</text>
</g>
</g>
<g id="line2d_154">
<path d="M 343.167153 149.464807 
L 352.277153 149.464807 
L 361.387153 149.464807 
" style="fill: none; stroke: #b87346; stroke-width: 1.5; stroke-linecap: square"/>
</g>
<g id="text_26">
<!-- 1 Pa, 1.75$v_{esc}$ -->
<g transform="translate(368.675153 153.099167)">
<text>
<tspan x="0" y="-0.4375" style="font-size: 9.11px; font-family: 'DejaVu Sans', 'Liberation Sans', sans-serif">1</tspan>
<tspan x="5.805603" y="-0.4375" style="font-size: 9.11px; font-family: 'DejaVu Sans', 'Liberation Sans', sans-serif"> </tspan>
<tspan x="8.706177" y="-0.4375" style="font-size: 9.11px; font-family: 'DejaVu Sans', 'Liberation Sans', sans-serif">P</tspan>
<tspan x="14.208801" y="-0.4375" style="font-size: 9.11px; font-family: 'DejaVu Sans', 'Liberation Sans', sans-serif">a</tspan>
<tspan x="19.800537" y="-0.4375" style="font-size: 9.11px; font-family: 'DejaVu Sans', 'Liberation Sans', sans-serif">,</tspan>
<tspan x="22.701111" y="-0.4375" style="font-size: 9.11px; font-family: 'DejaVu Sans', 'Liberation Sans', sans-serif"> </tspan>
<tspan x="25.601685" y="-0.4375" style="font-size: 9.11px; font-family: 'DejaVu Sans', 'Liberation Sans', sans-serif">1</tspan>
<tspan x="31.407288" y="-0.4375" style="font-size: 9.11px; font-family: 'DejaVu Sans', 'Liberation Sans', sans-serif">.</tspan>
<tspan x="33.557861" y="-0.4375" style="font-size: 9.11px; font-family: 'DejaVu Sans', 'Liberation Sans', sans-serif">7</tspan>
<tspan x="39.363464" y="-0.4375" style="font-size: 9.11px; font-family: 'DejaVu Sans', 'Liberation Sans', sans-serif">5</tspan>
<tspan x="45.169067" y="-0.4375" style="font-style: oblique; font-size: 9.11px; font-family: 'DejaVu Sans', 'Liberation Sans', sans-serif">v</tspan>
<tspan x="50.569214" y="1.039062" style="font-style: oblique; font-size: 6.377px; font-family: 'DejaVu Sans', 'Liberation Sans', sans-serif">e</tspan>
<tspan x="54.499023" y="1.039062" style="font-style: oblique; font-size: 6.377px; font-family: 'DejaVu Sans', 'Liberation Sans', sans-serif">s</tspan>
<tspan x="57.826886" y="1.039062" style="font-style: oblique; font-size: 6.377px; font-family: 'DejaVu Sans', 'Liberation Sans', sans-serif">c</tspan>
</text>
</g>
</g>
<g id="line2d_155">
<path d="M 343.167153 162.836579 
L 352.277153 162.836579 
L 361.387153 162.836579 
" style="fill: none; stroke: #d4865a; stroke-width: 1.5; stroke-linecap: square"/>
</g>
<g id="text_27">
<!-- 10 Pa, 2.0$v_{esc}$ -->
<g transform="translate(368.675153 166.470939)">
<text>
<tspan x="0" y="-0.3125" style="font-size: 9.11px; font-family: 'DejaVu Sans', 'Liberation Sans', sans-serif">1</tspan>
<tspan x="5.805603" y="-0.3125" style="font-size: 9.11px; font-family: 'DejaVu Sans', 'Liberation Sans', sans-serif">0</tspan>
<tspan x="11.611206" y="-0.3125" style="font-size: 9.11px; font-family: 'DejaVu Sans', 'Liberation Sans', sans-serif"> </tspan>
<tspan x="14.51178" y="-0.3125" style="font-size: 9.11px; font-family: 'DejaVu Sans', 'Liberation Sans', sans-serif">P</tspan>
<tspan x="20.014404" y="-0.3125" style="font-size: 9.11px; font-family: 'DejaVu Sans', 'Liberation Sans', sans-serif">a</tspan>
<tspan x="25.60614" y="-0.3125" style="font-size: 9.11px; font-family: 'DejaVu Sans', 'Liberation Sans', sans-serif">,</tspan>
<tspan x="28.506714" y="-0.3125" style="font-size: 9.11px; font-family: 'DejaVu Sans', 'Liberation Sans', sans-serif"> </tspan>
<tspan x="31.407288" y="-0.3125" style="font-size: 9.11px; font-family: 'DejaVu Sans', 'Liberation Sans', sans-serif">2</tspan>
<tspan x="37.212891" y="-0.3125" style="font-size: 9.11px; font-family: 'DejaVu Sans', 'Liberation Sans', sans-serif">.</tspan>
<tspan x="40.113464" y="-0.3125" style="font-size: 9.11px; font-family: 'DejaVu Sans', 'Liberation Sans', sans-serif">0</tspan>
<tspan x="45.919067" y="-0.3125" style="font-style: oblique; font-size: 9.11px; font-family: 'DejaVu Sans', 'Liberation Sans', sans-serif">v</tspan>
<tspan x="51.319214" y="1.164062" style="font-style: oblique; font-size: 6.377px; font-family: 'DejaVu Sans', 'Liberation Sans', sans-serif">e</tspan>
<tspan x="55.249023" y="1.164062" style="font-style: oblique; font-size: 6.377px; font-family: 'DejaVu Sans', 'Liberation Sans', sans-serif">s</tspan>
<tspan x="58.576886" y="1.164062" style="font-style: oblique; font-size: 6.377px; font-family: 'DejaVu Sans', 'Liberation Sans', sans-serif">c</tspan>
</text>
</g>
</g>
<g id="line2d_156">
<path d="M 343.167153 176.208351 
L 352.277153 176.208351 
L 361.387153 176.208351 
" style="fill: none; stroke: #eec47a; stroke-width: 1.5; stroke-linecap: square"/>
</g>
<g id="text_28">
<!-- 50 Pa, 2.5$v_{esc}$ -->
<g transform="translate(368.675153 179.842711)">
<text>
<tspan x="0" y="-0.3125" style="font-size: 9.11px; font-family: 'DejaVu Sans', 'Liberation Sans', sans-serif">5</tspan>
<tspan x="5.805603" y="-0.3125" style="font-size: 9.11px; font-family: 'DejaVu Sans', 'Liberation Sans', sans-serif">0</tspan>
<tspan x="11.611206" y="-0.3125" style="font-size: 9.11px; font-family: 'DejaVu Sans', 'Liberation Sans', sans-serif"> </tspan>
<tspan x="14.51178" y="-0.3125" style="font-size: 9.11px; font-family: 'DejaVu Sans', 'Liberation Sans', sans-serif">P</tspan>
<tspan x="20.014404" y="-0.3125" style="font-size: 9.11px; font-family: 'DejaVu Sans', 'Liberation Sans', sans-serif">a</tspan>
<tspan x="25.60614" y="-0.3125" style="font-size: 9.11px; font-family: 'DejaVu Sans', 'Liberation Sans', sans-serif">,</tspan>
<tspan x="28.506714" y="-0.3125" style="font-size: 9.11px; font-family: 'DejaVu Sans', 'Liberation Sans', sans-serif"> </tspan>
<tspan x="31.407288" y="-0.3125" style="font-size: 9.11px; font-family: 'DejaVu Sans', 'Liberation Sans', sans-serif">2</tspan>
<tspan x="37.212891" y="-0.3125" style="font-size: 9.11px; font-family: 'DejaVu Sans', 'Liberation Sans', sans-serif">.</tspan>
<tspan x="40.113464" y="-0.3125" style="font-size: 9.11px; font-family: 'DejaVu Sans', 'Liberation Sans', sans-serif">5</tspan>
<tspan x="45.919067" y="-0.3125" style="font-style: oblique; font-size: 9.11px; font-family: 'DejaVu Sans', 'Liberation Sans', sans-serif">v</tspan>
<tspan x="51.319214" y="1.164062" style="font-style: oblique; font-size: 6.377px; font-family: 'DejaVu Sans', 'Liberation Sans', sans-serif">e</tspan>
<tspan x="55.249023" y="1.164062" style="font-style: oblique; font-size: 6.377px; font-family: 'DejaVu Sans', 'Liberation Sans', sans-serif">s</tspan>
<tspan x="58.576886" y="1.164062" style="font-style: oblique; font-size: 6.377px; font-family: 'DejaVu Sans', 'Liberation Sans', sans-serif">c</tspan>
</text>
</g>
</g>
</g>
</g>
<g id="text_29">
<text style="font-weight: 700; font-size: 14.2px; font-family: 'DejaVu Sans', 'Liberation Sans', sans-serif, 'Bitstream Vera Sans', 'Computer Modern Sans Serif', 'Lucida Grande', 'Verdana', 'Geneva', 'Lucid', 'Arial', 'Helvetica', 'Avant Garde', sans-serif; text-anchor: start" x="10.828025" y="11.464968" transform="rotate(-0 10.828025 11.464968)">a</text>
</g>
<g id="text_30">
<text style="font-weight: 700; font-size: 14.2px; font-family: 'DejaVu Sans', 'Liberation Sans', sans-serif, 'Bitstream Vera Sans', 'Computer Modern Sans Serif', 'Lucida Grande', 'Verdana', 'Geneva', 'Lucid', 'Arial', 'Helvetica', 'Avant Garde', sans-serif; text-anchor: start" x="296.815287" y="11.464968" transform="rotate(-0 296.815287 11.464968)">b</text>
</g>
</g>
<defs>
<clipPath id="pebffe4a569">
<rect x="48.917197" y="11.369427" width="214.77707" height="177.929936"/>
</clipPath>
<clipPath id="pb86e2588bd">
<rect x="334.968153" y="11.369427" width="214.77707" height="177.929936"/>
</clipPath>
</defs>
</svg>

</body></html>
